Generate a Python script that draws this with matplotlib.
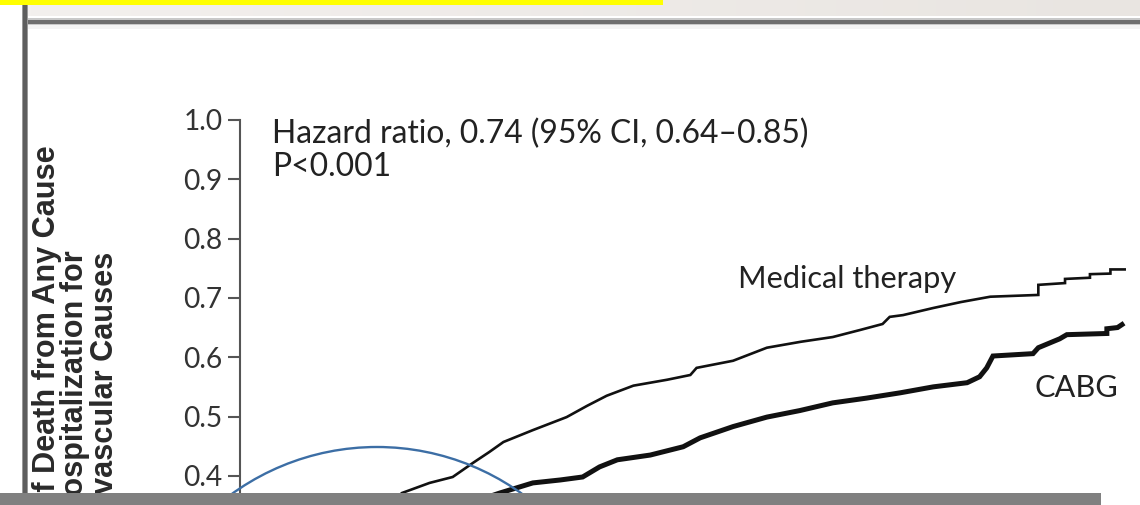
import matplotlib
matplotlib.use("Agg")
import matplotlib.pyplot as plt
import numpy as np
from matplotlib.patches import Rectangle, Ellipse
from matplotlib.colors import LinearSegmentedColormap

# ---------------- data ----------------
med_t = [0.0, 0.25, 0.5, 0.75, 1.0, 1.25, 1.5, 1.82, 2.13, 2.39, 2.62, 2.80, 2.96,
         3.29, 3.67, 3.90, 4.12, 4.42, 4.80, 5.06, 5.13, 5.54, 5.92, 6.30, 6.66,
         6.97, 7.22, 7.30, 7.45, 7.79, 8.10, 8.43, 8.97, 8.97, 9.27, 9.27, 9.55,
         9.55, 9.78, 9.78, 9.94]
med_v = [0.0, 0.10, 0.17, 0.22, 0.26, 0.30, 0.33, 0.371, 0.388, 0.398, 0.422, 0.440, 0.457,
         0.477, 0.499, 0.518, 0.535, 0.552, 0.562, 0.570, 0.582, 0.594, 0.616, 0.626, 0.634,
         0.646, 0.656, 0.668, 0.671, 0.683, 0.693, 0.702, 0.705, 0.722, 0.725, 0.732, 0.734,
         0.740, 0.741, 0.748, 0.748]

cabg_t = [0.0, 0.25, 0.5, 1.0, 1.5, 2.0, 2.5, 2.92, 3.29, 3.60, 3.85, 4.04, 4.24,
          4.61, 4.98, 5.17, 5.54, 5.92, 6.29, 6.66, 7.04, 7.42, 7.79, 8.17, 8.31,
          8.39, 8.46, 8.91, 8.97, 9.21, 9.29, 9.74, 9.74, 9.86, 9.91]
cabg_v = [0.0, 0.10, 0.16, 0.23, 0.28, 0.32, 0.35, 0.371, 0.388, 0.393, 0.398, 0.415, 0.427,
          0.435, 0.449, 0.464, 0.483, 0.499, 0.510, 0.523, 0.531, 0.540, 0.550, 0.557, 0.567,
          0.582, 0.602, 0.606, 0.616, 0.631, 0.638, 0.640, 0.648, 0.650, 0.655]

# only the ticks that fall inside the visible part of the picture
y_ticks = [0.4, 0.5, 0.6, 0.7, 0.8, 0.9, 1.0]
y_tick_labels = ["0.4", "0.5", "0.6", "0.7", "0.8", "0.9", "1.0"]

ylabel_lines = ["Probability of Death from Any Cause", "or Hospitalization for",
                "Cardiovascular Causes"]
hr_text = "Hazard ratio, 0.74 (95% CI, 0.64\u20130.85)"
p_text = "P<0.001"
series_names = ["Medical therapy", "CABG"]

# ---------------- figure ----------------
W, H = 1140, 505
plt.rcParams['font.family'] = ['Lato', 'DejaVu Sans']
fig = plt.figure(figsize=(W / 100, H / 100), dpi=100)
fig.patch.set_facecolor("white")
renderer = fig.canvas.get_renderer()

label_kw = dict(family=['Liberation Sans', 'DejaVu Sans'], fontweight="bold")


def fit(txt, px, **kw):
    t = fig.text(0, 0, txt, **kw)
    t.set_fontsize(10)
    w = t.get_window_extent(renderer=renderer).width
    t.remove()
    return 10 * px / w


def fx(x):
    return x / W


def fy(y):
    return 1 - y / H


def rect(x0, y0, x1, y1, color, z=5):
    fig.patches.append(Rectangle((fx(x0), fy(y1)), (x1 - x0) / W, (y1 - y0) / H,
                                 transform=fig.transFigure, facecolor=color,
                                 edgecolor="none", zorder=z))


# axes: y=1.0 at pixel 120, y=0 at pixel 713 (below the visible area)
ax = fig.add_axes([fx(240), fy(713), (1130 - 240) / W, (713 - 120) / H])
ax.set_xlim(0, 10)
ax.set_ylim(0, 1.0)
ax.patch.set_alpha(0)
for s in ["top", "right", "bottom"]:
    ax.spines[s].set_visible(False)
ax.spines["left"].set_color("#555555")
ax.spines["left"].set_linewidth(1.5)
ax.set_xticks([])

tick_fs = fit("0.9", 39)
ax.set_yticks(y_ticks)
ax.set_yticklabels(y_tick_labels)
ax.tick_params(axis="y", direction="out", length=8.6, width=1.5, color="#555555",
               pad=4.0, labelsize=tick_fs, labelcolor="#333333")

ax.plot(med_t, med_v, color="#111111", lw=1.9, solid_joinstyle="miter", zorder=3)
ax.plot(cabg_t, cabg_v, color="#111111", lw=3.6, solid_joinstyle="miter", zorder=3)

hr_fs = fit(hr_text, 536)
ax.text(0.36, 0.961, hr_text, fontsize=hr_fs, color="#222222", ha="left", va="baseline")
ax.text(0.36, 0.906, p_text, fontsize=hr_fs, color="#222222", ha="left", va="baseline")

med_fs = fit(series_names[0], 219)
ax.text(5.6, 0.717, series_names[0], fontsize=med_fs, color="#222222", ha="left", va="baseline")
ax.text(8.93, 0.533, series_names[1], fontsize=med_fs, color="#222222", ha="left", va="baseline")

# y label (three lines, rotated); line ends placed where they appear
yl_fs = fit("Death from Any Cause", 327, **label_kw)
for line, xb, yend in zip(ylabel_lines, [55, 83, 113], [145, 250, 252]):
    t = fig.text(fx(xb), fy(yend), line, rotation=90, rotation_mode="anchor",
                 ha="right", va="baseline", color="#2a2a2a", zorder=2, **label_kw)
    t.set_fontsize(yl_fs)

# ---------------- screenshot decorations ----------------
band = fig.add_axes([fx(27), fy(16), (W - 27) / W, 16 / H])
grad = np.linspace(0, 1, 256)[None, :]
cm = LinearSegmentedColormap.from_list("g", ["#f3f0ee", "#e9e5e1"])
band.imshow(grad, aspect="auto", cmap=cm, extent=[0, 1, 0, 1])
band.set_axis_off()

rect(0, 0, 663, 5, "#ffff00", z=10)
rect(27, 18.5, W, 25.5, "#c9c9c9", z=6)
rect(27, 20, W, 24, "#6e6e6e", z=7)
rect(27, 25.5, W, 29, "#f4f4f4", z=6)
rect(21.5, 5, 27.5, 493, "#9a9a9a", z=8)
rect(22.5, 5, 26.5, 493, "#5e5e5e", z=9)
rect(0, 493, 1101, H, "#808080", z=20)

circ = Ellipse((fx(377), fy(695)), 2 * 248 / W, 2 * 248 / H, transform=fig.transFigure,
               facecolor="none", edgecolor="#3c6ea5", lw=1.7, zorder=15)
fig.patches.append(circ)

fig.savefig("out.png", dpi=100)
